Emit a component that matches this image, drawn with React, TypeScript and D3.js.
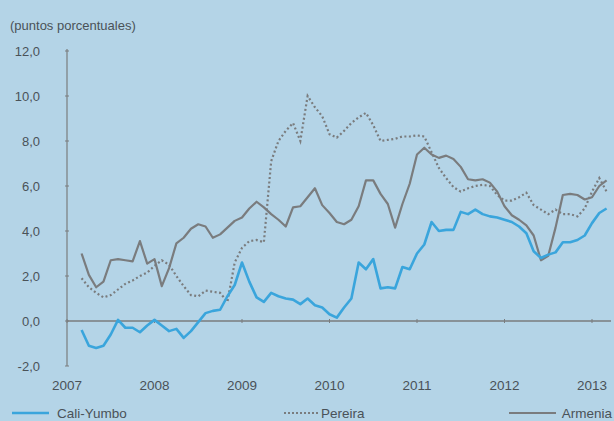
import React from "react";
import * as d3 from "d3";

// month index 2 = Mar 2007 ... 74 = Mar 2013
const startMonth = 2;
const caliYumbo = [
  -0.4, -1.1, -1.2, -1.1, -0.6, 0.05, -0.3, -0.3, -0.5, -0.2, 0.05, -0.2, -0.45, -0.35, -0.75, -0.45,
  -0.05, 0.35, 0.45, 0.5, 1.1, 1.6, 2.6, 1.75, 1.05, 0.85, 1.25, 1.1, 1.0, 0.95, 0.75, 1.0, 0.7, 0.6,
  0.3, 0.15, 0.6, 1.0, 2.6, 2.3, 2.75, 1.45, 1.5, 1.45, 2.4, 2.3, 3.0, 3.4, 4.4, 4.0, 4.05, 4.05, 4.85,
  4.75, 4.95, 4.75, 4.65, 4.6, 4.5, 4.4, 4.2, 3.9, 3.1, 2.8, 2.95, 3.05, 3.5, 3.5, 3.6, 3.8, 4.35, 4.8, 5.0,
];
const pereira = [
  1.9, 1.5, 1.25, 1.05, 1.15, 1.4, 1.65, 1.8, 2.0, 2.15, 2.45, 2.7, 2.5, 2.0, 1.55, 1.15, 1.1, 1.35, 1.3,
  1.25, 0.85, 2.6, 3.25, 3.55, 3.6, 3.5, 7.1, 8.0, 8.45, 8.8, 8.0, 10.0, 9.5, 9.1, 8.3, 8.15, 8.45, 8.8,
  9.05, 9.25, 8.7, 8.0, 8.05, 8.1, 8.2, 8.2, 8.25, 8.2, 7.5, 6.8, 6.35, 5.95, 5.75, 5.9, 6.0, 6.05, 6.0,
  5.6, 5.35, 5.35, 5.5, 5.7, 5.15, 4.95, 4.75, 4.95, 4.75, 4.75, 4.65, 5.0, 5.75, 6.35, 5.75,
];
const armenia = [
  3.0, 2.05, 1.5, 1.75, 2.7, 2.75, 2.7, 2.65, 3.55, 2.55, 2.75, 1.55, 2.35, 3.45, 3.7, 4.1, 4.3, 4.2,
  3.7, 3.85, 4.15, 4.45, 4.6, 5.0, 5.3, 5.05, 4.75, 4.5, 4.2, 5.05, 5.1, 5.5, 5.9, 5.15, 4.8, 4.4, 4.3,
  4.5, 5.1, 6.25, 6.25, 5.65, 5.2, 4.15, 5.2, 6.1, 7.4, 7.7, 7.4, 7.25, 7.35, 7.2, 6.85, 6.3, 6.25, 6.3,
  6.15, 5.75, 5.1, 4.7, 4.5, 4.25, 3.8, 2.7, 2.9, 4.15, 5.6, 5.65, 5.6, 5.4, 5.5, 6.0, 6.25,
];
const yTicks = [-2, 0, 2, 4, 6, 8, 10, 12];
const years = [2007, 2008, 2009, 2010, 2011, 2012, 2013];

const W = 614;
const H = 421;
const BG = "#b4d4e7";
const TEXT = "#4a5258";
const GRAY = "#7a7c7e";
const BLUE = "#3aa5dc";

export default function App() {
  const x = d3.scaleLinear().domain([2007, 2013]).range([67, 592]);
  const y = d3.scaleLinear().domain([-2, 12]).range([366, 51]);
  const t = (i: number) => 2007 + (startMonth + i) / 12;
  const line = d3
    .line<number>()
    .x((_, i) => x(t(i)))
    .y((d) => y(d))
    .curve(d3.curveLinear);
  const fmt = (v: number) => v.toFixed(1).replace(".", ",");
  const font = "'Liberation Sans', Arial, sans-serif";

  return (
    <svg
      width={W}
      height={H}
      style={{ position: "absolute", left: 0, top: 0, background: BG }}
      fontFamily={font}
    >
      <rect x={0} y={0} width={W} height={H} fill={BG} />
      <text x={10} y={30} fontSize={13} fill={TEXT}>
        (puntos porcentuales)
      </text>
      {/* y axis */}
      <line x1={x(2007)} x2={x(2007)} y1={y(12) - 2} y2={y(-2)} stroke={GRAY} strokeWidth={1.2} />
      {yTicks.map((v) => (
        <g key={v}>
          <line x1={x(2007) - 2} x2={x(2007) + 2} y1={y(v)} y2={y(v)} stroke={GRAY} strokeWidth={1} />
          <text x={40} y={y(v) + 4.5} fontSize={13} fill={TEXT} textAnchor="end">
            {fmt(v)}
          </text>
        </g>
      ))}
      {/* zero line */}
      <line x1={x(2007)} x2={611} y1={y(0)} y2={y(0)} stroke={GRAY} strokeWidth={1.5} />
      {years.map((yr) => (
        <g key={yr}>
          <line x1={x(yr)} x2={x(yr)} y1={y(0) - 2} y2={y(0) + 2} stroke={GRAY} strokeWidth={1} />
          <text x={x(yr)} y={390} fontSize={13.5} fill={TEXT} textAnchor="middle">
            {yr}
          </text>
        </g>
      ))}
      <path d={line(armenia) || ""} fill="none" stroke={GRAY} strokeWidth={2.2} strokeLinejoin="round" />
      <path
        d={line(pereira) || ""}
        fill="none"
        stroke={GRAY}
        strokeWidth={2.2}
        strokeDasharray="2 2.5"
      />
      <path d={line(caliYumbo) || ""} fill="none" stroke={BLUE} strokeWidth={2.6} strokeLinejoin="round" />
      {/* legend */}
      <line x1={12} x2={49} y1={413} y2={413} stroke={BLUE} strokeWidth={2.6} />
      <text x={57} y={418} fontSize={13.5} fill={TEXT}>
        Cali-Yumbo
      </text>
      <line x1={284} x2={320} y1={413} y2={413} stroke={GRAY} strokeWidth={1.8} strokeDasharray="2 2" />
      <text x={321} y={418} fontSize={13.5} fill={TEXT}>
        Pereira
      </text>
      <line x1={509} x2={556} y1={413} y2={413} stroke={GRAY} strokeWidth={2} />
      <text x={612} y={418} fontSize={13.5} fill={TEXT} textAnchor="end">
        Armenia
      </text>
    </svg>
  );
}
